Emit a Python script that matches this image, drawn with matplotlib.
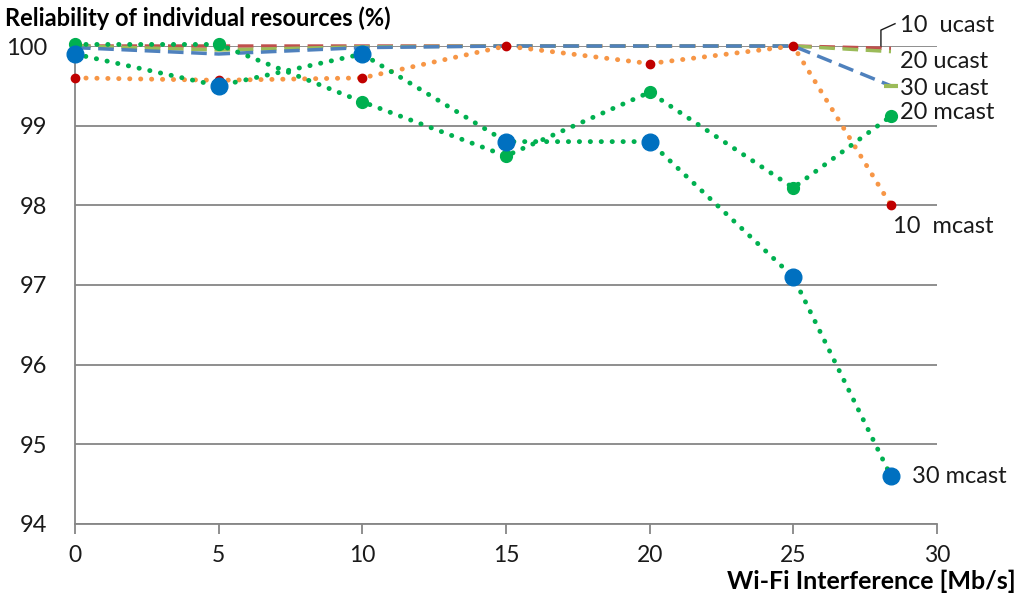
import numpy as np
from matplotlib import pyplot as plt

# Wi-Fi interference levels (Mb/s)
x = [0, 5, 10, 15, 20, 25, 28.4]

# reliability (%) per series
ucast10 = [100.0, 100.0, 100.0, 100.0, 100.0, 100.0, 99.97]
ucast20 = [100.0, 99.95, 99.99, 100.0, 100.0, 100.0, 99.93]
ucast30 = [99.98, 99.9, 99.98, 100.0, 100.0, 100.0, 99.5]
mcast10 = [99.6, 99.57, 99.6, 100.0, 99.78, 100.0, 98.0]
mcast20 = [100.02, 100.02, 99.3, 98.62, 99.42, 98.22, 99.12]
mcast30 = [99.9, 99.5, 99.9, 98.8, 98.8, 97.1, 94.6]

yticks = [94, 95, 96, 97, 98, 99, 100]
xticks = [0, 5, 10, 15, 20, 25, 30]

plt.rcParams['font.family'] = ['Lato', 'DejaVu Sans']

fig = plt.figure(figsize=(10.24, 6.04), dpi=100)
ax = fig.add_axes([0.0732, 0.1325, 0.8418, 0.7913])

dot = (0, (0.05, 2.2))
dash = (0, (4.5, 2.2))

ax.plot(x, ucast10, color='#C0504D', lw=2.5, ls=dash, clip_on=False, zorder=3)
ax.plot(x, ucast20, color='#9BBB59', lw=2.5, ls=dash, clip_on=False, zorder=3)
ax.plot(x, ucast30, color='#4F81BD', lw=2.5, ls=dash, clip_on=False, zorder=3)
ax.plot(x[-1:], ucast30[-1:], marker='_', ms=10, mew=3, color='#9BBB59', ls='none', clip_on=False, zorder=4)

ax.plot(x, mcast10, color='#F79646', lw=3.5, ls=dot, dash_capstyle='round',
        marker='o', ms=6, mfc='#C00000', mec='#C00000', clip_on=False, zorder=4)
ax.plot(x, mcast20, color='#00B050', lw=3.5, ls=dot, dash_capstyle='round',
        marker='o', ms=8.5, mfc='#00B050', mec='#00B050', clip_on=False, zorder=5)
ax.plot(x, mcast30, color='#00B050', lw=3.5, ls=dot, dash_capstyle='round',
        marker='o', ms=12, mfc='#0070C0', mec='#0070C0', clip_on=False, zorder=6)

ax.set_xlim(0, 30)
ax.set_ylim(94, 100)
ax.set_xticks(xticks)
ax.set_yticks(yticks)
ax.yaxis.grid(True, color='#868686', lw=1.3)
ax.set_axisbelow(True)
for s in ['top', 'right']:
    ax.spines[s].set_visible(False)
for s in ['left', 'bottom']:
    ax.spines[s].set_color('#868686')
    ax.spines[s].set_linewidth(1.3)
ax.tick_params(axis='x', direction='out', length=7, width=1.3, color='#868686',
               labelsize=16.5, pad=8, labelcolor='#1a1a1a')
ax.tick_params(axis='y', length=0, labelsize=17, pad=20, labelcolor='#1a1a1a')

# series labels
lab = dict(fontsize=17, color='#1a1a1a', va='center', ha='left')
ax.text(28.72, 100.26, '10  ucast', **lab)
ax.plot([28.05, 28.05, 28.54], [99.99, 100.2, 100.28], color='#1a1a1a', lw=1, clip_on=False)
ax.text(28.72, 99.8, '20 ucast', **lab)
ax.text(28.72, 99.47, '30 ucast', **lab)
ax.text(28.72, 99.16, '20 mcast', **lab)
ax.text(28.47, 97.74, '10  mcast', **lab)
ax.text(29.13, 94.59, '30 mcast', **lab)

fig.text(0.005, 0.97, 'Reliability of individual resources (%)', fontsize=17,
         fontweight='bold', ha='left', va='center')
fig.text(0.992, 0.038, 'Wi-Fi Interference [Mb/s]', fontsize=18,
         fontweight='bold', ha='right', va='center')

fig.savefig('out.png', dpi=100)
